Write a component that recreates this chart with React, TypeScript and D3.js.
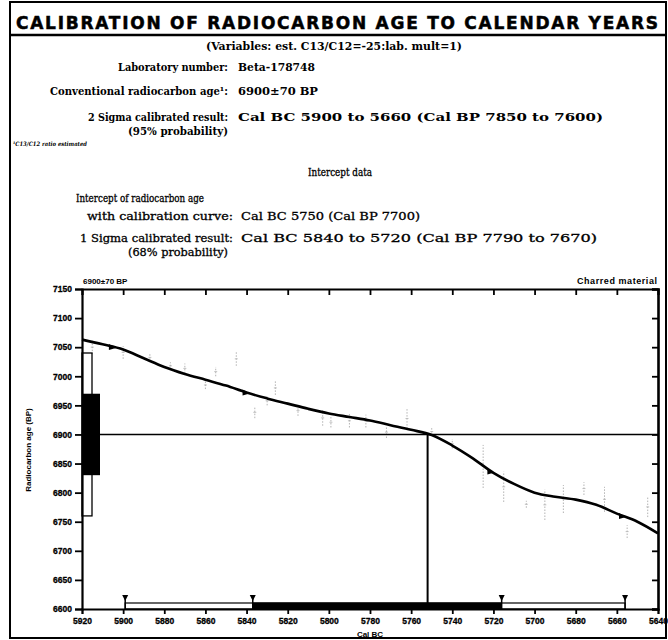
import { useEffect, useRef } from "react";
import * as d3 from "d3";

// calibration curve (Cal BC year, radiocarbon age BP)
const curveYears = [5920, 5910, 5900, 5890, 5880, 5870, 5860, 5850, 5840, 5830, 5820, 5810, 5800, 5790, 5780, 5770, 5760, 5750, 5740, 5730, 5720, 5710, 5700, 5690, 5680, 5670, 5660, 5650, 5640];
const curveAges = [7063, 7055, 7046, 7031, 7016, 7004, 6994, 6984, 6972, 6962, 6953, 6944, 6936, 6930, 6924, 6916, 6908, 6899, 6881, 6859, 6834, 6815, 6800, 6793, 6788, 6779, 6764, 6750, 6730];

// tree-ring data points shown as faint error bars
const dataYears = [5915, 5900, 5887, 5877, 5870, 5860, 5855, 5845, 5836, 5830, 5826, 5815, 5803, 5799, 5790, 5782, 5772, 5762, 5750, 5740, 5725, 5715, 5704, 5695, 5686, 5676, 5666, 5655, 5645];
const dataLow = [7038, 7030, 7025, 7012, 7005, 6978, 7000, 7018, 6928, 6950, 6968, 6932, 6915, 6912, 6912, 6912, 6894, 6910, 6898, 6876, 6808, 6784, 6774, 6753, 6765, 6796, 6767, 6722, 6758];
const dataHigh = [7062, 7052, 7040, 7024, 7022, 6992, 7016, 7042, 6948, 6966, 6992, 6950, 6942, 6930, 6935, 6934, 6914, 6945, 6912, 6892, 6882, 6836, 6786, 6805, 6813, 6818, 6810, 6744, 6793];

// marks on the curve
const curveMarkYears = [5905, 5840, 5721, 5657];

// radiocarbon age ranges (1 and 2 sigma)
const ageSigma1 = [6830, 6970];
const ageSigma2 = [6760, 7040];
const measuredAge = 6900;

// calibrated ranges
const calSigma1 = [5837, 5716];
const calSigma2 = [5899, 5656];
const interceptYear = 5752;

const xTicks = [5920, 5900, 5880, 5860, 5840, 5820, 5800, 5780, 5760, 5740, 5720, 5700, 5680, 5660, 5640];
const yTicks = [6600, 6650, 6700, 6750, 6800, 6850, 6900, 6950, 7000, 7050, 7100, 7150];

const title = "CALIBRATION OF RADIOCARBON  AGE TO CALENDAR YEARS";
const variablesLine = "(Variables: est. C13/C12=-25:lab. mult=1)";
const infoLabels = ["Laboratory number:", "Conventional radiocarbon age\u00B9:", "2 Sigma calibrated result:"];
const infoValues = ["Beta-178748", "6900\u00B170 BP", "Cal BC 5900 to 5660 (Cal BP 7850 to 7600)"];
const interceptLabels = ["with calibration curve:", "1 Sigma calibrated result:"];
const interceptValues = ["Cal BC 5750 (Cal BP 7700)", "Cal BC 5840 to 5720 (Cal BP 7790 to 7670)"];

const W = 668;
const H = 640;

const App: React.FC = () => {
  const svgRef = useRef<SVGSVGElement>(null);

  useEffect(() => {
    if (!svgRef.current) return;
    const svg = d3.select(svgRef.current);
    svg.selectAll("*").remove();

    const serif = "'DejaVu Serif', 'Liberation Serif', serif";
    const sans = "'Liberation Sans', Arial, sans-serif";

    // frame
    svg.append("rect").attr("x", 10).attr("y", 2).attr("width", 656).attr("height", 636)
      .attr("fill", "white").attr("stroke", "black").attr("stroke-width", 2);
    svg.append("line").attr("x1", 10).attr("x2", 666).attr("y1", 35).attr("y2", 35)
      .attr("stroke", "black").attr("stroke-width", 2.5);

    svg.append("text").attr("x", 16).attr("y", 29).text(title)
      .attr("font-family", "'DejaVu Sans', sans-serif").attr("font-weight", "bold")
      .attr("font-size", 17).attr("stroke", "black").attr("stroke-width", 0.5)
      .attr("textLength", 642).attr("lengthAdjust", "spacing");

    // header text, fitted to the widths of the original lines
    const txt = (x: number, y: number, s: string, anchor: string, len: number, weight = "bold", size = 11) =>
      svg.append("text").attr("x", x).attr("y", y).text(s)
        .attr("text-anchor", anchor).attr("font-family", serif)
        .attr("font-weight", weight).attr("font-size", size)
        .attr("textLength", len).attr("lengthAdjust", "spacingAndGlyphs");

    txt(334, 50, variablesLine, "middle", 256, "bold", 10.5);
    const rowY = [71, 95, 121];
    const labelLen = [110, 178, 140];
    const valueLen = [77, 80, 365];
    infoLabels.forEach((s, i) => {
      txt(228, rowY[i], s, "end", labelLen[i]);
      txt(238, rowY[i], infoValues[i], "start", valueLen[i]);
    });
    txt(228, 135, "(95% probability)", "end", 100);
    txt(13, 146, "\u00B9C13/C12 ratio estimated", "start", 74, "bold", 6).attr("font-style", "italic");

    txt(340, 176, "Intercept data", "middle", 64, "normal", 10.5).attr("stroke", "black").attr("stroke-width", 0.3);
    txt(204, 202, "Intercept of radiocarbon age", "end", 128, "normal", 10.5).attr("stroke", "black").attr("stroke-width", 0.3);
    const iy = [220, 242];
    const iLabelLen = [146, 153];
    const iValueLen = [179, 356];
    interceptLabels.forEach((s, i) => {
      txt(233, iy[i], s, "end", iLabelLen[i], "normal").attr("stroke", "black").attr("stroke-width", 0.3);
      txt(241, iy[i], interceptValues[i], "start", iValueLen[i], "normal").attr("stroke", "black").attr("stroke-width", 0.3);
    });
    txt(228, 256, "(68% probability)", "end", 100, "normal").attr("stroke", "black").attr("stroke-width", 0.3);

    // chart
    const x = d3.scaleLinear().domain([5920, 5640]).range([82, 658]);
    const y = d3.scaleLinear().domain([6600, 7150]).range([609, 289]);

    const g = svg.append("g");

    // faint data error bars
    dataYears.forEach((yr, i) => {
      const gx = x(yr);
      g.append("line").attr("x1", gx).attr("x2", gx).attr("y1", y(dataLow[i])).attr("y2", y(dataHigh[i]))
        .attr("stroke", "#a0a0a0").attr("stroke-width", 0.8).attr("stroke-dasharray", "1.5,1.5");
      const mid = (dataLow[i] + dataHigh[i]) / 2;
      g.append("line").attr("x1", gx - 1.5).attr("x2", gx + 1.5).attr("y1", y(mid)).attr("y2", y(mid))
        .attr("stroke", "#b4b4b4").attr("stroke-width", 0.8);
    });

    // reference lines
    g.append("line").attr("x1", x(5920)).attr("x2", x(5640)).attr("y1", y(measuredAge)).attr("y2", y(measuredAge))
      .attr("stroke", "black").attr("stroke-width", 1.6);
    g.append("line").attr("x1", x(interceptYear)).attr("x2", x(interceptYear)).attr("y1", y(measuredAge)).attr("y2", y(6600))
      .attr("stroke", "black").attr("stroke-width", 2);

    // calibration curve
    const line = d3.line<number>().x((d) => x(d)).y((_, i) => y(curveAges[i])).curve(d3.curveMonotoneX);
    g.append("path").attr("d", line(curveYears)).attr("fill", "none").attr("stroke", "black").attr("stroke-width", 2.6);

    const ageAt = (yr: number) => {
      const i = d3.bisector((d: number) => -d).left(curveYears, -yr);
      if (i <= 0) return curveAges[0];
      const t = (curveYears[i - 1] - yr) / (curveYears[i - 1] - curveYears[i]);
      return curveAges[i - 1] + t * (curveAges[i] - curveAges[i - 1]);
    };
    curveMarkYears.forEach((yr) => {
      const cx = x(yr);
      const cy = y(ageAt(yr));
      g.append("path").attr("d", `M${cx - 4},${cy - 3}L${cx + 3},${cy + 1}L${cx - 4},${cy + 3}Z`).attr("fill", "black");
    });

    // age distribution on the y axis
    g.append("rect").attr("x", x(5920)).attr("y", y(ageSigma2[1])).attr("width", 10)
      .attr("height", y(ageSigma2[0]) - y(ageSigma2[1])).attr("fill", "white").attr("stroke", "black").attr("stroke-width", 1.3);
    g.append("rect").attr("x", x(5920)).attr("y", y(ageSigma1[1])).attr("width", 18)
      .attr("height", y(ageSigma1[0]) - y(ageSigma1[1])).attr("fill", "black");

    // calibrated ranges on the x axis
    g.append("rect").attr("x", x(calSigma2[0])).attr("y", 603).attr("width", x(calSigma2[1]) - x(calSigma2[0]))
      .attr("height", 6).attr("fill", "white").attr("stroke", "black").attr("stroke-width", 1.2);
    g.append("rect").attr("x", x(calSigma1[0])).attr("y", 602.5).attr("width", x(calSigma1[1]) - x(calSigma1[0]))
      .attr("height", 6.5).attr("fill", "black");
    [...calSigma2, ...calSigma1].forEach((yr) => {
      const cx = x(yr);
      g.append("path").attr("d", `M${cx - 3},${595}L${cx + 3},${595}L${cx},${601}Z`).attr("fill", "black");
      g.append("line").attr("x1", cx).attr("x2", cx).attr("y1", 598).attr("y2", 609).attr("stroke", "black").attr("stroke-width", 1.5);
    });

    // axes
    const fmt = d3.format("d");
    const bottom = g.append("g").attr("transform", "translate(0,609)")
      .call(d3.axisBottom(x).tickValues(xTicks).tickSize(5).tickPadding(4).tickFormat((d) => fmt(d as number)));
    const top = g.append("g").attr("transform", "translate(0,289)")
      .call(d3.axisTop(x).tickValues(xTicks).tickSize(-6).tickFormat(() => ""));
    const left = g.append("g").attr("transform", "translate(82,0)")
      .call(d3.axisLeft(y).tickValues(yTicks).tickSize(7).tickPadding(3).tickFormat((d) => fmt(d as number)));
    const right = g.append("g").attr("transform", "translate(658,0)")
      .call(d3.axisRight(y).tickValues(yTicks).tickSize(-6).tickFormat(() => ""));

    [bottom, top, left, right].forEach((a) => {
      a.select(".domain").attr("stroke", "black").attr("stroke-width", 1.8);
      a.selectAll(".tick line").attr("stroke", "black").attr("stroke-width", 1.8);
      a.selectAll("text").attr("font-family", sans).attr("font-weight", "bold").attr("font-size", 8.5)
        .attr("fill", "black").attr("stroke", "black").attr("stroke-width", 0.3);
    });
    right.select(".domain").attr("stroke-width", 2.6);
    left.select(".domain").attr("stroke-width", 2.2);

    const small = (xx: number, yy: number, s: string, anchor: string, size = 8) =>
      svg.append("text").attr("x", xx).attr("y", yy).text(s).attr("text-anchor", anchor)
        .attr("font-family", sans).attr("font-weight", "bold").attr("font-size", size);
    small(83, 284, "6900\u00B170 BP", "start");
    small(657, 284, "Charred material", "end", 9).attr("textLength", 80).attr("lengthAdjust", "spacing");
    small(370, 637, "Cal BC", "middle");
    small(0, 0, "Radiocarbon age (BP)", "middle").attr("transform", "translate(31,450) rotate(-90)");
  }, []);

  return (
    <svg ref={svgRef} width={W} height={H}
      style={{ position: "absolute", left: 0, top: 0, background: "white" }} />
  );
};

export default App;
